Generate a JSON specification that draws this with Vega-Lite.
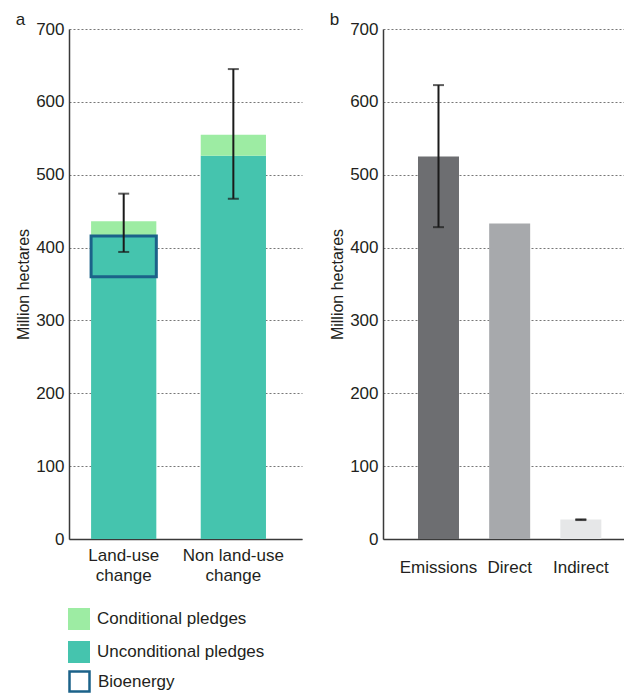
{
  "$schema": "https://vega.github.io/schema/vega-lite/v6.json",
  "padding": {"left": 15, "top": 11, "right": 0, "bottom": 0},
  "config": {
    "font": "Liberation Sans",
    "view": {"stroke": null},
    "axis": {
      "labelFont": "Liberation Sans", "labelFontSize": 17, "labelColor": "#231f20",
      "titleFont": "Liberation Sans", "titleFontSize": 16, "titleFontWeight": "normal", "titleColor": "#231f20",
      "domainColor": "#3a3a3a", "domainWidth": 1.5, "ticks": false,
      "gridColor": "#777777", "gridDash": [2, 2], "gridWidth": 1
    },
    "axisX": {"grid": false, "labelAngle": 0, "labelFontSize": 17},
    "axisY": {"labelPadding": 5, "titlePadding": 4},
    "legend": {
      "orient": "none", "direction": "vertical", "title": null,
      "symbolType": "square", "labelFont": "Liberation Sans", "labelFontSize": 17, "labelColor": "#231f20",
      "rowPadding": 10, "labelOffset": 6, "symbolOpacity": 1, "labelLimit": 400
    },
    "title": {"anchor": "start", "frame": "bounds", "fontSize": 17, "fontWeight": "normal", "font": "Liberation Sans", "color": "#231f20", "offset": -9},
    "concat": {"spacing": 27}
  },
  "resolve": {"scale": {"fill": "independent", "stroke": "independent"}, "legend": {"fill": "independent", "stroke": "independent"}},
  "hconcat": [
    {
      "title": "a",
      "width": 233,
      "height": 510,
      "layer": [
        {
          "data": {"values": [
            {"cat": "Land-use change", "type": "Unconditional pledges", "start": 0, "end": 416},
            {"cat": "Land-use change", "type": "Conditional pledges", "start": 416, "end": 436},
            {"cat": "Non land-use change", "type": "Unconditional pledges", "start": 0, "end": 526},
            {"cat": "Non land-use change", "type": "Conditional pledges", "start": 526, "end": 555}
          ]},
          "mark": {"type": "bar"},
          "encoding": {
            "x": {"field": "cat", "type": "nominal", "title": null,
              "scale": {"domain": ["Land-use change", "Non land-use change"], "paddingInner": 0.405, "paddingOuter": 0.265, "align": 0.38},
              "axis": {"labelPadding": 8, "labelLineHeight": 20,
                "labelExpr": "datum.value == 'Land-use change' ? ['Land-use', 'change'] : ['Non land-use', 'change']"}},
            "y": {"field": "start", "type": "quantitative", "title": "Million hectares",
              "scale": {"domain": [0, 700], "nice": false},
              "axis": {"values": [0, 100, 200, 300, 400, 500, 600, 700]}},
            "y2": {"field": "end"},
            "fill": {"field": "type", "type": "nominal",
              "scale": {"domain": ["Conditional pledges", "Unconditional pledges"], "range": ["#9deca3", "#45c4ae"]},
              "legend": {"legendX": -2, "legendY": 578, "symbolSize": 484}}
          }
        },
        {
          "data": {"values": [
            {"cat": "Land-use change", "type": "Bioenergy", "start": 360, "end": 416}
          ]},
          "mark": {"type": "bar", "filled": false, "strokeWidth": 3},
          "encoding": {
            "x": {"field": "cat", "type": "nominal", "title": null},
            "y": {"field": "start", "type": "quantitative", "title": "Million hectares"},
            "y2": {"field": "end"},
            "stroke": {"field": "type", "type": "nominal",
              "scale": {"domain": ["Bioenergy"], "range": ["#1b6289"]},
              "legend": {"legendX": -1, "legendY": 641, "symbolSize": 400, "symbolStrokeWidth": 2.5, "symbolFillColor": "#ffffff", "labelOffset": 7}}
          }
        },
        {
          "data": {"values": [
            {"cat": "Land-use change", "low": 394, "high": 474},
            {"cat": "Non land-use change", "low": 467, "high": 645}
          ]},
          "mark": {"type": "errorbar", "color": "#1a1a1a", "thickness": 2, "ticks": {"size": 11}},
          "encoding": {
            "x": {"field": "cat", "type": "nominal", "title": null},
            "y": {"field": "low", "type": "quantitative", "title": "Million hectares"},
            "y2": {"field": "high"}
          }
        }
      ]
    },
    {
      "title": "b",
      "width": 241,
      "height": 510,
      "layer": [
        {
          "data": {"values": [
            {"cat": "Emissions", "value": 525},
            {"cat": "Direct", "value": 433},
            {"cat": "Indirect", "value": 26.6}
          ]},
          "mark": {"type": "bar"},
          "encoding": {
            "x": {"field": "cat", "type": "nominal", "title": null,
              "scale": {"domain": ["Emissions", "Direct", "Indirect"], "paddingInner": 0.424, "paddingOuter": 0.405, "align": 0.607},
              "axis": {"labelPadding": 20}},
            "y": {"field": "value", "type": "quantitative", "title": "Million hectares",
              "scale": {"domain": [0, 700], "nice": false},
              "axis": {"values": [0, 100, 200, 300, 400, 500, 600, 700]}},
            "fill": {"field": "cat", "type": "nominal",
              "scale": {"domain": ["Emissions", "Direct", "Indirect"], "range": ["#6d6e71", "#a7a9ac", "#e6e7e8"]},
              "legend": null}
          }
        },
        {
          "data": {"values": [
            {"cat": "Emissions", "low": 428, "high": 623},
            {"cat": "Indirect", "low": 26, "high": 27}
          ]},
          "mark": {"type": "errorbar", "color": "#1a1a1a", "thickness": 2, "ticks": {"size": 11}},
          "encoding": {
            "x": {"field": "cat", "type": "nominal", "title": null},
            "y": {"field": "low", "type": "quantitative", "title": "Million hectares"},
            "y2": {"field": "high"}
          }
        }
      ]
    }
  ]
}
